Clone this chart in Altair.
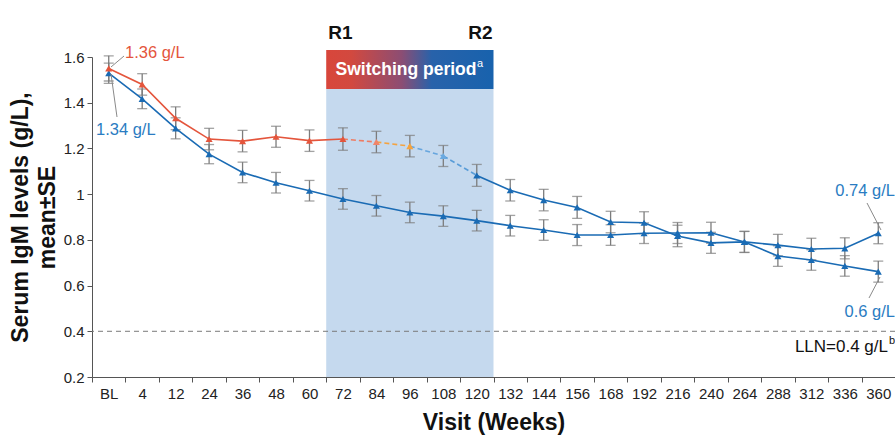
import altair as alt
import pandas as pd

visits = ["BL", "4", "12", "24", "36", "48", "60", "72", "84", "96", "108", "120",
          "132", "144", "156", "168", "192", "216", "240", "264", "288", "312", "336", "360"]

# Group switching (red -> blue)
switch_mean = [1.550, 1.480, 1.332, 1.241, 1.232, 1.251, 1.234, 1.241, 1.228, 1.210, 1.167, 1.082,
               1.017, 0.974, 0.942, 0.878, 0.875, 0.817, 0.787, 0.791, 0.777, 0.760, 0.763, 0.829]
switch_se = [0.055, 0.047, 0.050, 0.047, 0.047, 0.046, 0.047, 0.049, 0.047, 0.047, 0.046, 0.048,
             0.047, 0.047, 0.048, 0.047, 0.048, 0.047, 0.046, 0.046, 0.047, 0.047, 0.046, 0.046]

# Group continuous (blue)
blue_mean = [1.529, 1.417, 1.288, 1.175, 1.095, 1.050, 1.015, 0.979, 0.949, 0.920, 0.904, 0.884,
             0.862, 0.843, 0.821, 0.821, 0.829, 0.830, 0.831, 0.791, 0.729, 0.712, 0.686, 0.661]
blue_se = [0.044, 0.043, 0.046, 0.042, 0.045, 0.045, 0.045, 0.045, 0.045, 0.045, 0.045, 0.045,
           0.045, 0.045, 0.046, 0.045, 0.045, 0.046, 0.046, 0.046, 0.045, 0.045, 0.045, 0.046]

switch_visits = ["72", "120"]
lln = 0.4

RED = "#e4553c"
BLUE = "#1a6bb4"
GRAY = "#7c7c7c"
# colours of the switching-period points (84, 96, 108) and dashed segments
trans_point_colors = ["#f0846a", "#f5a33e", "#6aa9e0"]
trans_seg_colors = ["#ee7c63", "#f4a340", "#67a6de", "#5a9dd8"]
FONT = "Liberation Sans"

W, H = 803, 320

xscale = alt.Scale(type="band", domain=visits, paddingInner=0, paddingOuter=0)
yscale = alt.Scale(domain=[0.2, 1.6], nice=False, zero=False)

xaxis = alt.Axis(title="Visit (Weeks)", labelAngle=0, tickBand="extent", tickSize=5,
                 domainColor="#555", tickColor="#555", labelFont=FONT, labelFontSize=15,
                 labelColor="#222", labelPadding=4, titleFont=FONT, titleFontSize=23,
                 titleFontWeight="bold", titleColor="#111", titlePadding=10, grid=False)
yaxis = alt.Axis(title=["Serum IgM levels (g/L),", "mean±SE"],
                 values=[0.2, 0.4, 0.6, 0.8, 1.0, 1.2, 1.4, 1.6], format=".1~f",
                 tickSize=5, domainColor="#555", tickColor="#555", labelFont=FONT,
                 labelFontSize=15, labelColor="#222", labelPadding=3, titleFont=FONT,
                 titleFontSize=23, titleFontWeight="bold", titleColor="#111",
                 titleLineHeight=27, titlePadding=4, grid=False)


def X(field="visit", **kw):
    return alt.X(f"{field}:N", scale=xscale, axis=xaxis, sort=visits, **kw)


def Y(field):
    return alt.Y(f"{field}:Q", scale=yscale, axis=yaxis)


n = len(visits)
sw_colors = []
for i in range(n):
    if i <= 7:
        sw_colors.append(RED)
    elif i <= 10:
        sw_colors.append(trans_point_colors[i - 8])
    else:
        sw_colors.append(BLUE)

sw = pd.DataFrame({"visit": visits, "mean": switch_mean, "se": switch_se, "c": sw_colors})
sw["lo"] = sw["mean"] - sw["se"]
sw["hi"] = sw["mean"] + sw["se"]
bl = pd.DataFrame({"visit": visits, "mean": blue_mean, "se": blue_se})
bl["lo"] = bl["mean"] - bl["se"]
bl["hi"] = bl["mean"] + bl["se"]
both = pd.concat([sw[["visit", "lo", "hi"]], bl[["visit", "lo", "hi"]]], ignore_index=True)

red_part = sw.iloc[0:8]
blue_part = sw.iloc[11:]
segs = []
for k in range(4):
    for j in (7 + k, 8 + k):
        segs.append({"visit": visits[j], "mean": switch_mean[j], "seg": k, "c": trans_seg_colors[k]})
segs = pd.DataFrame(segs)

dummy = pd.DataFrame({"a": [0]})

# shaded switching region and header
region = pd.DataFrame({"start": [switch_visits[0]], "end": [switch_visits[1]]})
shade = alt.Chart(region).mark_rect(color="#c5d9ee").encode(
    x=X("start", bandPosition=0), x2=alt.X2("end:N", bandPosition=1),
    y=alt.value(32), y2=alt.value(H))
grad = alt.LinearGradient(gradient="linear", x1=0, x2=1, y1=0, y2=0, stops=[
    alt.GradientStop(color="#d8463b", offset=0),
    alt.GradientStop(color="#d2493f", offset=0.15),
    alt.GradientStop(color="#8c4d73", offset=0.45),
    alt.GradientStop(color="#2862aa", offset=0.63),
    alt.GradientStop(color="#1862ad", offset=1)])
header = alt.Chart(region).mark_rect(fill=grad).encode(
    x=X("start", bandPosition=0), x2=alt.X2("end:N", bandPosition=1),
    y=alt.value(-7), y2=alt.value(32))
r1 = alt.Chart(region).mark_text(text="R1", font=FONT, fontSize=19, fontWeight="bold",
                                 align="left", baseline="middle", color="#111", dx=2).encode(
    x=X("start", bandPosition=0), y=alt.value(-24))
r2 = alt.Chart(region).mark_text(text="R2", font=FONT, fontSize=19, fontWeight="bold",
                                 align="right", baseline="middle", color="#111", dx=-1).encode(
    x=X("end", bandPosition=1), y=alt.value(-24))
sw_text = alt.Chart(dummy).mark_text(text="Switching period", font=FONT, fontSize=17.5,
                                     fontWeight="bold", color="white", align="center",
                                     baseline="middle").encode(x=alt.value(314), y=alt.value(13))
sw_sup = alt.Chart(dummy).mark_text(text="a", font=FONT, fontSize=11, color="white",
                                    align="left", baseline="middle").encode(
    x=alt.value(385), y=alt.value(7))

# LLN line
lln_rule = alt.Chart(dummy).mark_rule(color="#7a7a7a", strokeDash=[5, 4], strokeWidth=1).encode(
    y=alt.datum(lln))
lln_text = alt.Chart(dummy).mark_text(text="LLN=0.4 g/L", font=FONT, fontSize=17, color="#111",
                                      align="right", baseline="middle").encode(
    x=alt.value(796), y=alt.value(290))
lln_sup = alt.Chart(dummy).mark_text(text="b", font=FONT, fontSize=11, color="#111",
                                     align="left", baseline="middle").encode(
    x=alt.value(797), y=alt.value(284))

# error bars
eb = alt.Chart(both).mark_rule(color=GRAY, strokeWidth=1.3).encode(
    x=X(), y=Y("lo"), y2=alt.Y2("hi:Q"))
cap_hi = alt.Chart(both).mark_tick(color=GRAY, size=10, thickness=1.3).encode(x=X(), y=Y("hi"))
cap_lo = alt.Chart(both).mark_tick(color=GRAY, size=10, thickness=1.3).encode(x=X(), y=Y("lo"))

# lines
line_blue = alt.Chart(bl).mark_line(color=BLUE, strokeWidth=1.6).encode(x=X(), y=Y("mean"))
line_red = alt.Chart(red_part).mark_line(color=RED, strokeWidth=1.6).encode(x=X(), y=Y("mean"))
line_sw_blue = alt.Chart(blue_part).mark_line(color=BLUE, strokeWidth=1.6).encode(
    x=X(), y=Y("mean"))
line_dash = alt.Chart(segs).mark_line(strokeWidth=1.6, strokeDash=[5, 3]).encode(
    x=X(), y=Y("mean"), detail="seg:N", color=alt.Color("c:N", scale=None))

pts_blue = alt.Chart(bl).mark_point(shape="triangle-up", filled=True, size=50, opacity=1,
                                    color=BLUE).encode(x=X(), y=Y("mean"))
pts_sw = alt.Chart(sw).mark_point(shape="triangle-up", filled=True, size=50, opacity=1).encode(
    x=X(), y=Y("mean"), color=alt.Color("c:N", scale=None))


# annotations
def label(txt, x, y, color, align="left"):
    return alt.Chart(dummy).mark_text(text=txt, font=FONT, fontSize=16.5, color=color,
                                      align=align, baseline="middle").encode(
        x=alt.value(x), y=alt.value(y))


def leader(x1, y1, x2, y2):
    return alt.Chart(dummy).mark_rule(color="#8a8a8a", strokeWidth=1).encode(
        x=alt.value(x1), y=alt.value(y1), x2=alt.value(x2), y2=alt.value(y2))


annots = [
    label("1.36 g/L", 33, -4, RED), leader(32, -1, 19, 10),
    label("1.34 g/L", 4, 73, "#2a7cc2"), leader(25, 60, 19, 17),
    label("0.74 g/L", 803, 134, "#2a7cc2", "right"), leader(775, 146, 789, 173),
    label("0.6 g/L", 803, 255, "#2a7cc2", "right"), leader(777, 241, 788, 220),
]

chart = alt.layer(
    shade, header, r1, r2, sw_text, sw_sup, lln_rule, lln_text, lln_sup,
    eb, cap_hi, cap_lo,
    line_blue, line_red, line_sw_blue, line_dash, pts_blue, pts_sw,
    *annots
).properties(
    width=W, height=H, autosize=alt.AutoSizeParams(type="none"),
    padding={"left": 92, "top": 57, "right": 0, "bottom": 60}
).configure(background="white").configure_view(stroke=None)

chart.save("out.html", embed_options={"renderer": "svg", "actions": False})
